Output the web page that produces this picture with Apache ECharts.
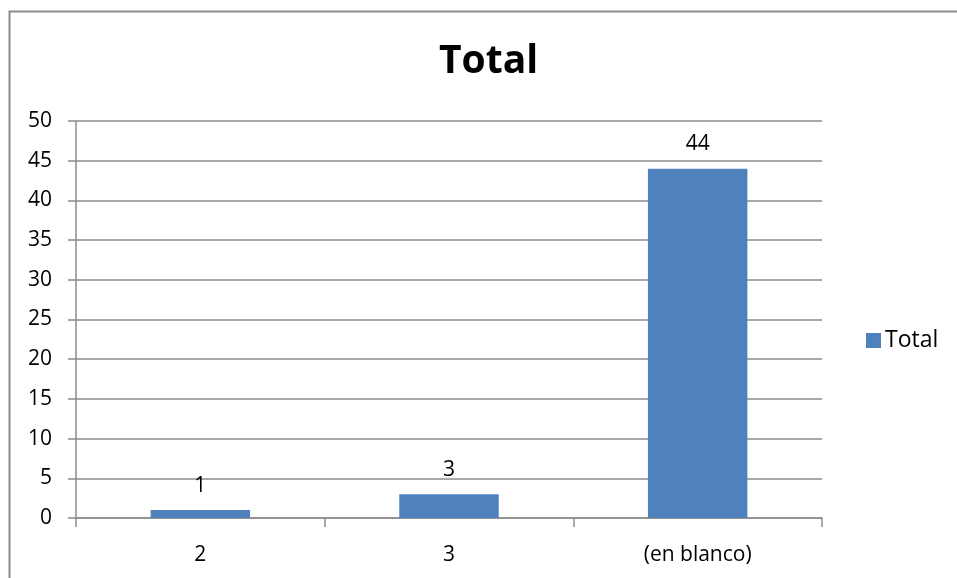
<!DOCTYPE html>
<html><head><meta charset="utf-8">
<script src="https://cdn.jsdelivr.net/npm/echarts@6/dist/echarts.min.js"></script>
<style>html,body{margin:0;padding:0;background:#fff}#c{width:957px;height:578px}</style>
</head><body><div id="c"></div>
<script>
const categories = ['2', '3', '(en blanco)'];
const totalValues = [1, 3, 44];
const yTicks = [0, 5, 10, 15, 20, 25, 30, 35, 40, 45, 50];
const font = '"Open Sans", "DejaVu Sans", sans-serif';
const chart = echarts.init(document.getElementById('c'));
chart.setOption({
  animation: false,
  backgroundColor: '#fff',
  title: {
    text: 'Total', left: 434, top: 37,
    textStyle: { fontFamily: font, fontSize: 39, fontWeight: 'bold', color: '#000' }
  },
  graphic: [{
    type: 'rect', left: 7, top: 9, z: 100, silent: true,
    shape: { width: 1000, height: 1000 },
    style: { fill: 'none', stroke: '#8a8a8a', lineWidth: 2 }
  }],
  legend: {
    data: ['Total'], orient: 'vertical', left: 861, top: 324,
    itemWidth: 15, itemHeight: 15, itemGap: 6,
    textStyle: { fontFamily: font, fontSize: 23, color: '#000', padding: [0, 0, 0, -1] },
    icon: 'rect'
  },
  grid: { left: 76, right: 135, top: 121, bottom: 60, containLabel: false },
  xAxis: {
    type: 'category', data: categories,
    axisLine: { lineStyle: { color: '#8c8c8c', width: 1.5 } },
    axisTick: { show: true, length: 9, lineStyle: { color: '#8c8c8c', width: 1.5 } },
    axisLabel: { fontFamily: font, fontSize: 21, color: '#000', margin: 27 }
  },
  yAxis: {
    type: 'value', min: yTicks[0], max: yTicks[yTicks.length - 1], interval: 5,
    axisLine: { show: true, lineStyle: { color: '#8c8c8c', width: 1.5 } },
    axisTick: { show: true, length: 8, lineStyle: { color: '#8c8c8c', width: 1.5 } },
    splitLine: { lineStyle: { color: '#8c8c8c', width: 1.5 } },
    axisLabel: { fontFamily: font, fontSize: 21, color: '#000', margin: 24 }
  },
  series: [{
    name: 'Total', type: 'bar', data: totalValues, barWidth: '40%',
    itemStyle: { color: '#4f81bd' },
    label: { show: true, position: 'top', distance: 14, fontFamily: font, fontSize: 21, color: '#000' }
  }]
});
</script></body></html>
